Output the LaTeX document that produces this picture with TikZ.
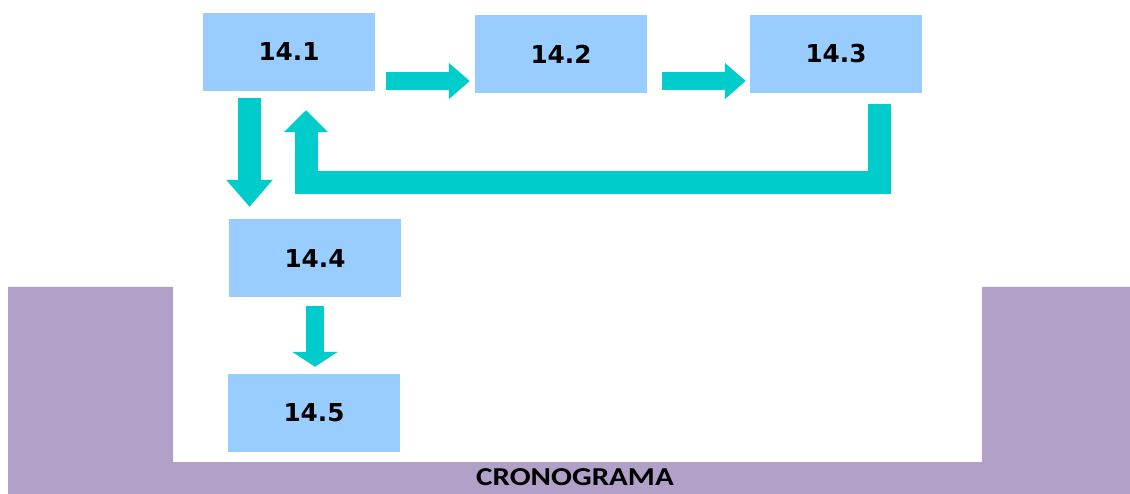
\documentclass[tikz,border=0pt]{standalone}
\usepackage{fontspec}
\setmainfont{DejaVu Sans}
\newfontfamily\titlefont{Carlito}
\usetikzlibrary{arrows.meta}
\definecolor{boxblue}{HTML}{99CCFF}
\definecolor{turq}{HTML}{00CCCC}
\definecolor{lilac}{HTML}{B1A0C7}

\begin{document}
\begin{tikzpicture}[x=1pt,y=-1pt,
    box/.style={fill=boxblue,minimum width=172pt,minimum height=78pt,inner sep=0pt,
        font=\fontsize{24.7}{26}\selectfont\bfseries},
    blockarr/.style={draw=turq,line join=miter,line cap=butt}]

            \useasboundingbox (0,0) rectangle (1130,494);

            % Purple frame at the bottom
            \fill[lilac] (8,287) -- (173,287) -- (173,462) -- (982,462) -- (982,287)
                -- (1130,287) -- (1130,494) -- (8,494) -- cycle;
            \node (titulo) at (575,477) {\titlefont\fontsize{25.8}{27}\selectfont\bfseries
                \scalebox{1.2}[1]{CRONOGRAMA}};

            % The boxes
            \node[box] (b1) at (289,52) {14.1};
            \node[box] (b2) at (561,54) {14.2};
            \node[box] (b3) at (836,54) {14.3};
            \node[box] (b4) at (315,258) {14.4};
            \node[box] (b5) at (314,413) {14.5};

            % Arrows between the boxes
            \draw[blockarr,line width=18pt,-{Triangle[length=21pt,width=35pt]}]
                ([shift={(11,29)}]b1.east) -- ([shift={(-5,27)}]b2.west);
            \draw[blockarr,line width=18pt,-{Triangle[length=21pt,width=35pt]}]
                ([shift={(15,27)}]b2.east) -- ([shift={(-4,27)}]b3.west);
            \draw[blockarr,line width=23pt,-{Triangle[length=27pt,width=45pt]}]
                ([shift={(-39.5,7)}]b1.south) -- ([shift={(-65.5,-12)}]b4.north);
            \draw[blockarr,line width=18pt,-{Triangle[length=15pt,width=45pt]}]
                ([shift={(0,9)}]b4.south) -- ([shift={(1,-7)}]b5.north);

            % Back from 14.3 to 14.1
            \draw[blockarr,line width=23pt,-{Triangle[length=22pt,width=43pt]}]
                ([shift={(43.5,11)}]b3.south) -- ++(0,78) -| ([shift={(17,19)}]b1.south);

\end{tikzpicture}
\end{document}
